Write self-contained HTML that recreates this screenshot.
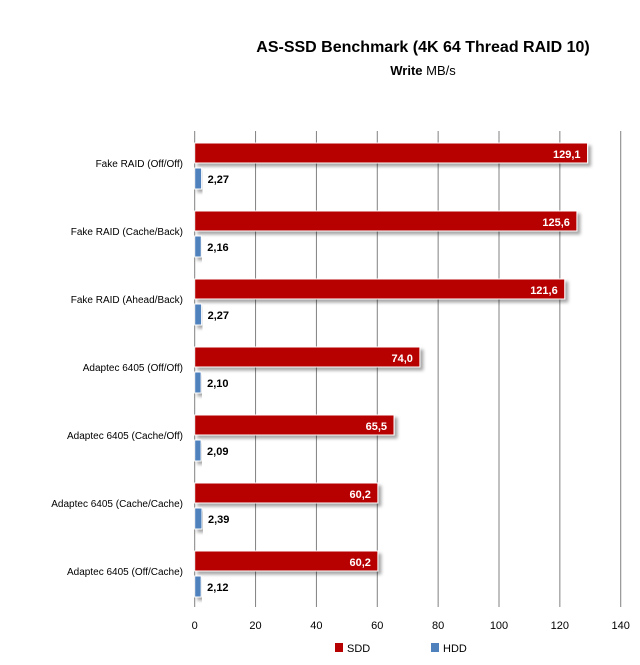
<!DOCTYPE html>
<html><head><meta charset="utf-8"><style>
body{margin:0;background:#fff;font-family:"Liberation Sans",sans-serif}
</style></head><body>
<svg width="640" height="660" xmlns="http://www.w3.org/2000/svg">
<defs><filter id="sh" x="-5%" y="-20%" width="115%" height="160%"><feDropShadow dx="3" dy="3" stdDeviation="1.5" flood-color="#000" flood-opacity="0.35"/></filter></defs>
<text x="423" y="52" text-anchor="middle" font-size="16" font-weight="bold">AS-SSD Benchmark (4K 64 Thread RAID 10)</text>
<text x="423" y="75" text-anchor="middle" font-size="13"><tspan font-weight="bold">Write</tspan> MB/s</text>
<g id="grid"></g><g id="bars"></g><g id="labels"></g>
<g font-size="11">
<rect x="335" y="643" width="8" height="9" fill="#b70000"/>
<text x="347" y="652">SDD</text>
<rect x="431" y="643" width="8" height="9" fill="#4f81bd"/>
<text x="443" y="652">HDD</text>
</g>
</svg>
<script>
const categories=["Fake RAID (Off/Off)","Fake RAID (Cache/Back)","Fake RAID (Ahead/Back)","Adaptec 6405  (Off/Off)","Adaptec 6405  (Cache/Off)","Adaptec 6405  (Cache/Cache)","Adaptec 6405  (Off/Cache)"];
const sdd=[129.1,125.6,121.6,74.0,65.5,60.2,60.2];
const hdd=[2.27,2.16,2.27,2.10,2.09,2.39,2.12];
const ticks=[0,20,40,60,80,100,120,140];
const NS="http://www.w3.org/2000/svg";
const x0=194.7,pxu=3.043,plotTop=131,plotBottom=607,band=(plotBottom-plotTop)/categories.length;
const xs=v=>x0+v*pxu;
function mk(t,a,p){const e=document.createElementNS(NS,t);for(const k in a)e.setAttribute(k,a[k]);p.appendChild(e);return e;}
const grid=document.getElementById('grid'),bars=document.getElementById('bars'),labels=document.getElementById('labels');
ticks.forEach(t=>{
 const l=mk('line',{x1:xs(t),x2:xs(t),y1:plotTop,y2:plotBottom,stroke:'#808080','stroke-width':1},grid);
 
 
 const tx=mk('text',{x:xs(t),y:629,'text-anchor':'middle','font-size':11},grid);tx.textContent=t;
 
 
});
const fmt=(v,d)=>v.toFixed(d).replace('.',',');
categories.forEach((c,i)=>{
 const y=plotTop+i*band;
 const lab=mk('text',{x:183,y:y+36,'text-anchor':'end','font-size':10},labels);lab.textContent=c;
 
 
 const r1=mk('rect',{x:x0,y:y+12,width:sdd[i]*pxu,height:20,fill:'#b70000',stroke:'#fff','stroke-width':1,filter:'url(#sh)'},bars);
 
 
 const t1=mk('text',{x:xs(sdd[i])-7,y:y+27,'text-anchor':'end','font-size':11,'font-weight':'bold',fill:'#fff'},labels);t1.textContent=fmt(sdd[i],1);
 
 
 const r2=mk('rect',{x:x0,y:y+37,width:hdd[i]*pxu,height:21,fill:'#4f81bd',stroke:'#fff','stroke-width':1,filter:'url(#sh)'},bars);
 
 
 const t2=mk('text',{x:xs(hdd[i])+6,y:y+52,'font-size':11,'font-weight':'bold'},labels);t2.textContent=fmt(hdd[i],2);
 
 
});
</script>
</body></html>
